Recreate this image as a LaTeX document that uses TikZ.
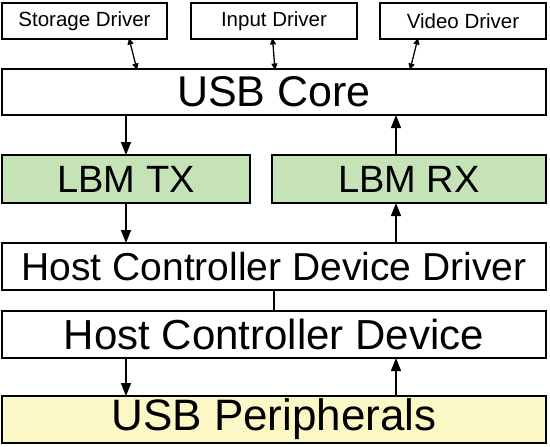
\documentclass[tikz,border=0pt]{standalone}
\usepackage{fontspec}
\setmainfont{Liberation Sans}
\usetikzlibrary{arrows.meta}
\definecolor{lbmgreen}{RGB}{198,226,183}
\definecolor{periyellow}{RGB}{251,248,198}
\begin{document}
\begin{tikzpicture}[x=1pt,y=-1pt,
  box/.style={draw, line width=1.5pt, inner sep=0pt, outer sep=0pt},
  drv/.style={box, minimum height=36pt, font=\fontsize{20.5}{22}\selectfont},
  arr/.style={line width=1.5pt, -{Triangle[length=13pt,width=10pt]}},
  darr/.style={line width=1.3pt, {Triangle[length=6.5pt,width=6pt]}-{Triangle[length=6.5pt,width=6pt]}}]
\useasboundingbox (0,0) rectangle (550,447);
\node[drv, minimum width=165pt] (sd) at (84.5,21) {Storage Driver};
\node[drv, minimum width=166pt] (id) at (274,21) {Input Driver};
\node[drv, minimum width=166pt] (vd) at (463,21) {Video Driver};
\node[box, minimum width=544pt, minimum height=46pt, font=\fontsize{43}{45}\selectfont] (core) at (274,92) {USB Core};
\node[box, fill=lbmgreen, minimum width=248pt, minimum height=48pt, font=\fontsize{38}{40}\selectfont] (tx) at (126,179) {LBM TX};
\node[box, fill=lbmgreen, minimum width=274pt, minimum height=48pt, font=\fontsize{38}{40}\selectfont] (rx) at (409,179) {LBM RX};
\node[box, minimum width=544pt, minimum height=47pt, font=\fontsize{39}{41}\selectfont] (hcdd) at (274,266.5) {Host Controller Device Driver};
\node[box, minimum width=544pt, minimum height=47pt, font=\fontsize{42}{44}\selectfont] (hcd) at (274,334.5) {Host Controller Device};
\node[box, fill=periyellow, minimum width=544pt, minimum height=47pt, font=\fontsize{44}{46}\selectfont] (per) at (274,419.5) {USB Peripherals};
\coordinate (lx) at (126,0);
\coordinate (rxx) at (396,0);
\coordinate (sa) at (129,0);
\coordinate (sb) at (137,0);
\coordinate (ia) at (272.5,0);
\coordinate (ib) at (275,0);
\coordinate (va) at (418,0);
\coordinate (vb) at (410,0);
\draw[darr] ([yshift=1pt]sd.south -| sa) -- ([yshift=-1pt]core.north -| sb);
\draw[darr] ([yshift=1pt]id.south -| ia) -- ([yshift=-1pt]core.north -| ib);
\draw[darr] ([yshift=1pt]vd.south -| va) -- ([yshift=-1pt]core.north -| vb);
\draw[arr] (core.south -| lx) -- (tx.north -| lx);
\draw[arr] (rx.north -| rxx) -- (core.south -| rxx);
\draw[arr] (tx.south -| lx) -- (hcdd.north -| lx);
\draw[arr] (hcdd.north -| rxx) -- (rx.south -| rxx);
\draw[line width=1.8pt] (hcdd.south) -- (hcd.north);
\draw[arr] (hcd.south -| lx) -- (per.north -| lx);
\draw[arr] (per.north -| rxx) -- (hcd.south -| rxx);
\end{tikzpicture}
\end{document}
